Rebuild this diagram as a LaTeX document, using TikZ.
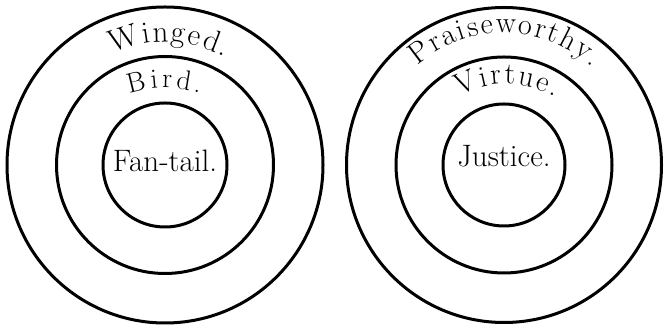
\documentclass[tikz,border=0pt]{standalone}
\usepackage{fontspec}
\usetikzlibrary{decorations.text}

\begin{document}
\begin{tikzpicture}[x=1pt,y=1pt]
  \tikzstyle{ring}=[draw,circle,line width=3pt,inner sep=0pt]
  \tikzstyle{curved}=[decorate,decoration={text along path,text align=fit to path}]
  \tikzstyle{inner}=[anchor=base,inner sep=0pt,font=\fontsize{31}{34}\selectfont]
  \useasboundingbox (0,0) rectangle (667,328);
  \coordinate (lc) at (165,163);
  \coordinate (rc) at (504,163);
  % left set of circles
  \node[ring,minimum size=316pt] (winged) at (lc) {};
  \node[ring,minimum size=217pt] (bird) at (lc) {};
  \node[ring,minimum size=124pt] (fantail) at (lc) {};
  \node[inner] (fantailtext) at (165,156) {Fan-tail.};
  \path[curved,decoration={text={|\fontsize{31}{34}\selectfont|Winged.}}]
    ([shift={(115:123pt)}]lc) arc[start angle=115,end angle=61,radius=123pt];
  \path[curved,decoration={text={|\fontsize{28}{32}\selectfont|Bird.}}]
    ([shift={(108.5:110pt)}]165,130) arc[start angle=108.5,end angle=71.5,radius=110pt];
  % right set of circles
  \node[ring,minimum size=315pt] (praise) at (rc) {};
  \node[ring,minimum size=216pt] (virtue) at (rc) {};
  \node[ring,minimum size=122pt] (justice) at (rc) {};
  \node[inner] (justicetext) at (504,161) {Justice.};
  \path[curved,decoration={text={|\fontsize{30}{34}\selectfont|Praiseworthy.}}]
    ([shift={(131:132pt)}]rc) arc[start angle=131,end angle=48,radius=132pt];
  \path[curved,decoration={text={|\fontsize{30}{34}\selectfont|Virtue.}}]
    ([shift={(119:95pt)}]506,149) arc[start angle=119,end angle=59,radius=95pt];
\end{tikzpicture}
\end{document}
